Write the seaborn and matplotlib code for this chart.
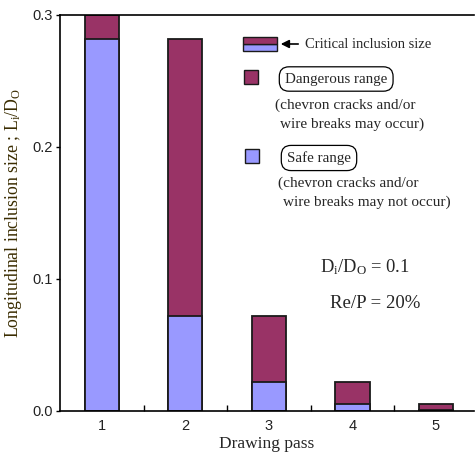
import matplotlib
matplotlib.use("Agg")
import matplotlib.pyplot as plt
import seaborn as sns
import pandas as pd
from matplotlib.patches import Rectangle
from matplotlib.ticker import FixedLocator

# ---- data ----
passes = [1, 2, 3, 4, 5]
critical_size = [0.300, 0.282, 0.072, 0.022, 0.0053]
safe_limit = [0.282, 0.072, 0.022, 0.0053, 0.0011]
y_ticks = [0.0, 0.1, 0.2, 0.3]
y_tick_labels = ["0.0", "0.1", "0.2", "0.3"]

DANGER = "#993366"
SAFE = "#9999FF"
EDGE = "#1a1a1a"

sns.set_theme(style="white")
plt.rcParams["font.family"] = ["Liberation Serif", "DejaVu Serif"]
plt.rcParams["mathtext.fontset"] = "custom"
plt.rcParams["mathtext.rm"] = "Liberation Serif"

df = pd.DataFrame({"pass": passes, "critical": critical_size, "safe": safe_limit})

W, H = 475, 455
fig = plt.figure(figsize=(W / 100, H / 100), dpi=100)
ax = fig.add_axes([60 / W, 1 - 411 / H, (474 - 60) / W, (411 - 15) / H])

sns.barplot(data=df, x="pass", y="critical", native_scale=True, width=0.41,
            color=DANGER, saturation=1, edgecolor=EDGE, linewidth=1.3, ax=ax)
sns.barplot(data=df, x="pass", y="safe", native_scale=True, width=0.41,
            color=SAFE, saturation=1, edgecolor=EDGE, linewidth=1.3, ax=ax)

ax.set_xlim(0.5, 5.455)
ax.set_ylim(0, 0.3)
ax.set_xticks(passes)
ax.set_xticklabels([str(p) for p in passes], family="Liberation Sans", fontsize=10.5, color="#222222")
ax.xaxis.set_minor_locator(FixedLocator([1.5, 2.5, 3.5, 4.5]))
ax.tick_params(axis="x", which="major", length=0, pad=6)
ax.tick_params(axis="x", which="minor", direction="in", length=4, width=1, color="black", bottom=True)
ax.set_yticks(y_ticks)
ax.set_yticklabels(y_tick_labels, family="Liberation Sans", fontsize=10.5, color="#222222")
ax.tick_params(axis="y", which="major", direction="out", length=3, width=1, color="black", left=True, pad=2)

for side in ["left", "bottom", "top"]:
    ax.spines[side].set_visible(True)
    ax.spines[side].set_color("black")
    ax.spines[side].set_linewidth(1.2)
ax.spines["right"].set_visible(False)

ax.set_xlabel("Drawing pass", fontsize=12.5, labelpad=2)
ax.set_ylabel(r"Longitudinal inclusion size ; L$\mathregular{_i}$/D$\mathregular{_O}$",
              fontsize=12.8, color="#3a2c00", labelpad=6)


def px(x, y):
    return (x / W, 1 - y / H)


T = fig.transFigure
# Critical inclusion size icon
fig.add_artist(Rectangle(px(243, 51), 34 / W, 7 / H, transform=T, facecolor=SAFE, edgecolor=EDGE, lw=1))
fig.add_artist(Rectangle(px(243, 44), 34 / W, 7 / H, transform=T, facecolor=DANGER, edgecolor=EDGE, lw=1))
ax.annotate("", xy=px(278, 44), xytext=px(301, 44), xycoords=T, textcoords=T,
            arrowprops=dict(arrowstyle="-|>", color="black", lw=1.2, mutation_scale=12))
fig.text(*px(305, 44), "Critical inclusion size", fontsize=10.5, va="center", ha="left")

box = dict(boxstyle="round,pad=0.38,rounding_size=0.65", fc="white", ec="black", lw=0.9)

# Dangerous range
fig.add_artist(Rectangle(px(244, 84), 14 / W, 14 / H, transform=T, facecolor=DANGER, edgecolor=EDGE, lw=1))
fig.text(*px(285, 79), "Dangerous range", fontsize=10.8, va="center", ha="left", bbox=box)
fig.text(*px(275, 105), "(chevron cracks and/or", fontsize=11, va="center", ha="left")
fig.text(*px(280, 124), "wire breaks may occur)", fontsize=11, va="center", ha="left")

# Safe range
fig.add_artist(Rectangle(px(245, 163), 14 / W, 14 / H, transform=T, facecolor=SAFE, edgecolor=EDGE, lw=1))
fig.text(*px(287, 158), "Safe range", fontsize=10.8, va="center", ha="left", bbox=box)
fig.text(*px(278, 183), "(chevron cracks and/or", fontsize=11, va="center", ha="left")
fig.text(*px(283, 202), "wire breaks may not occur)", fontsize=11, va="center", ha="left")

# Parameters
fig.text(*px(320, 267), r"D$\mathregular{_i}$/D$\mathregular{_O}$ = 0.1", fontsize=13.3, va="center", ha="left")
fig.text(*px(330, 303), "Re/P = 20%", fontsize=13.5, va="center", ha="left")

fig.savefig("out.png", dpi=100)
